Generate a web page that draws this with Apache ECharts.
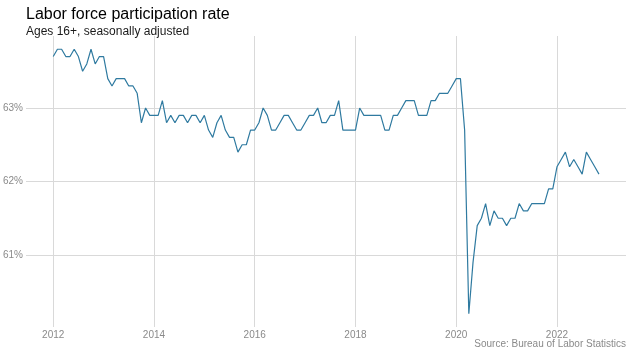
<!DOCTYPE html>
<html>
<head>
<meta charset="utf-8">
<title>Labor force participation rate</title>
<script src="https://cdn.jsdelivr.net/npm/echarts@6/dist/echarts.min.js"></script>
<style>
  html, body { margin: 0; padding: 0; background: #fff; }
  #chart { width: 630px; height: 354px; }
</style>
</head>
<body>
<div id="chart"></div>
<script>
'use strict';

// monthly rate, Jan..Dec of each year (%)
var years = [2012, 2013, 2014, 2015, 2016, 2017, 2018, 2019, 2020, 2021, 2022];
var rate2012 = [63.7, 63.8, 63.8, 63.7, 63.7, 63.8, 63.7, 63.5, 63.6, 63.8, 63.6, 63.7];
var rate2013 = [63.7, 63.4, 63.3, 63.4, 63.4, 63.4, 63.3, 63.3, 63.2, 62.8, 63.0, 62.9];
var rate2014 = [62.9, 62.9, 63.1, 62.8, 62.9, 62.8, 62.9, 62.9, 62.8, 62.9, 62.9, 62.8];
var rate2015 = [62.9, 62.7, 62.6, 62.8, 62.9, 62.7, 62.6, 62.6, 62.4, 62.5, 62.5, 62.7];
var rate2016 = [62.7, 62.8, 63.0, 62.9, 62.7, 62.7, 62.8, 62.9, 62.9, 62.8, 62.7, 62.7];
var rate2017 = [62.8, 62.9, 62.9, 63.0, 62.8, 62.8, 62.9, 62.9, 63.1, 62.7, 62.7, 62.7];
var rate2018 = [62.7, 63.0, 62.9, 62.9, 62.9, 62.9, 62.9, 62.7, 62.7, 62.9, 62.9, 63.0];
var rate2019 = [63.1, 63.1, 63.1, 62.9, 62.9, 62.9, 63.1, 63.1, 63.2, 63.2, 63.2, 63.3];
var rate2020 = [63.4, 63.4, 62.7, 60.2, 60.9, 61.4, 61.5, 61.7, 61.4, 61.6, 61.5, 61.5];
var rate2021 = [61.4, 61.5, 61.5, 61.7, 61.6, 61.6, 61.7, 61.7, 61.7, 61.7, 61.9, 61.9];
var rate2022 = [62.2, 62.3, 62.4, 62.2, 62.3, 62.2, 62.1, 62.4, 62.3, 62.2, 62.1];

var xTicks = [2012, 2014, 2016, 2018, 2020, 2022];
var yTicks = [61, 62, 63];

var rates = [rate2012, rate2013, rate2014, rate2015, rate2016, rate2017,
             rate2018, rate2019, rate2020, rate2021, rate2022];

var points = [];
years.forEach(function (y, i) {
  rates[i].forEach(function (v, m) {
    points.push([y + m / 12, v]);
  });
});

var gridColor = '#d9d9d9';
var labelColor = '#8a8a8a';
var font = 'Liberation Sans, Arial, sans-serif';

var chart = echarts.init(document.getElementById('chart'));
chart.setOption({
  animation: false,
  backgroundColor: '#fff',
  title: {
    left: 21,
    top: 2,
    text: 'Labor force participation rate',
    subtext: 'Ages 16+, seasonally adjusted',
    itemGap: 3,
    textStyle: { fontFamily: font, fontSize: 16, fontWeight: 'normal', color: '#000' },
    subtextStyle: { fontFamily: font, fontSize: 12, color: '#1a1a1a' }
  },
  graphic: [{
    type: 'text',
    right: 4,
    top: 339,
    style: {
      text: 'Source: Bureau of Labor Statistics',
      fontFamily: font,
      fontSize: 10,
      fill: labelColor
    }
  }],
  grid: { left: 25, right: 4, top: 36, bottom: 27, containLabel: false },
  xAxis: {
    type: 'value',
    min: 2011.46,
    max: 2023.37,
    axisLine: { show: false },
    axisTick: { show: false, customValues: xTicks },
    axisLabel: {
      customValues: xTicks,
      margin: 3,
      color: labelColor,
      fontFamily: font,
      fontSize: 10,
      formatter: function (v) { return String(Math.round(v)); }
    },
    splitLine: { show: true, lineStyle: { color: gridColor, width: 1 } }
  },
  yAxis: {
    type: 'value',
    min: 60.02,
    max: 63.98,
    axisLine: { show: false },
    axisTick: { show: false, customValues: yTicks },
    axisLabel: {
      customValues: yTicks,
      margin: 3,
      color: labelColor,
      fontFamily: font,
      fontSize: 10,
      formatter: function (v) { return Math.round(v) + '%'; }
    },
    splitLine: { show: true, lineStyle: { color: gridColor, width: 1 } }
  },
  series: [{
    type: 'line',
    data: points,
    showSymbol: false,
    lineStyle: { color: '#2f7aa0', width: 1.2 },
    clip: true
  }]
});
</script>
</body>
</html>
